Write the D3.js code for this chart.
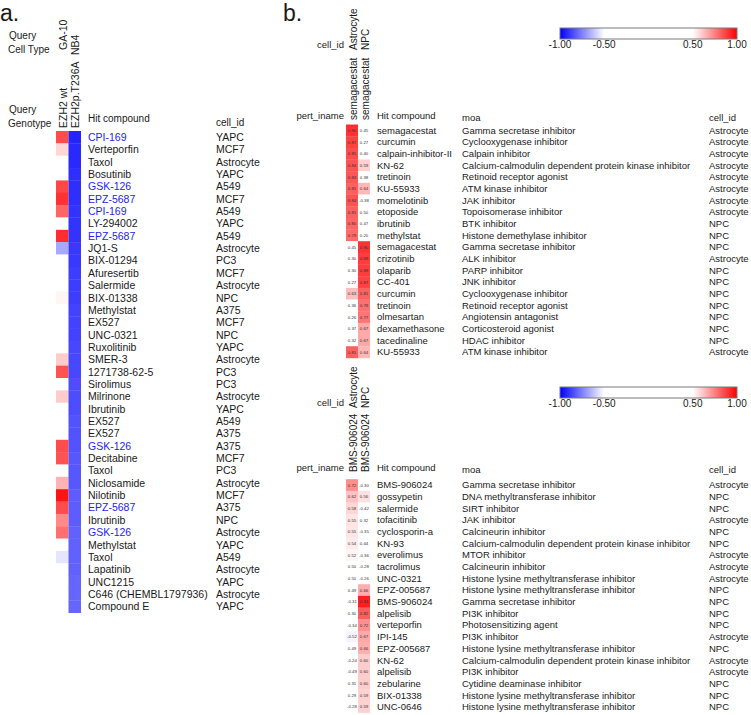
<!DOCTYPE html>
<html>
<head>
<meta charset="utf-8">
<script src="https://cdn.jsdelivr.net/npm/d3@7"></script>
<style>
  body { margin: 0; background: #fff; }
  svg { display: block; font-family: "Liberation Sans", Arial, sans-serif; }
</style>
</head>
<body>
<svg id="viz" width="751" height="715"></svg>
<script>
// ---- panel a data ----
const aCompounds = ['CPI-169','Verteporfin','Taxol','Bosutinib','GSK-126','EPZ-5687','CPI-169','LY-294002','EPZ-5687','JQ1-S',
  'BIX-01294','Afuresertib','Salermide','BIX-01338','Methylstat','EX527','UNC-0321','Ruxolitinib','SMER-3','1271738-62-5',
  'Sirolimus','Milrinone','Ibrutinib','EX527','EX527','GSK-126','Decitabine','Taxol','Niclosamide','Nilotinib',
  'EPZ-5687','Ibrutinib','GSK-126','Methylstat','Taxol','Lapatinib','UNC1215','C646 (CHEMBL1797936)','Compound E'];
const aCells = ['YAPC','MCF7','Astrocyte','YAPC','A549','MCF7','A549','YAPC','A549','Astrocyte',
  'PC3','MCF7','Astrocyte','NPC','A375','MCF7','NPC','YAPC','Astrocyte','PC3',
  'PC3','Astrocyte','YAPC','A549','A375','A375','MCF7','PC3','Astrocyte','MCF7',
  'A375','NPC','Astrocyte','YAPC','A549','Astrocyte','YAPC','Astrocyte','YAPC'];
const aGA10 = [0.85,0.58,0,0,0.86,0.90,0.80,0,0.91,-0.67,
  0,0,0,0.52,0,0,0,0,0.60,0.84,
  0,0.60,0,0,0,0.85,0.84,0,0.65,0.96,
  0.85,0.73,0.78,0,-0.55,0,0,0,0];
const aNB4 = [-0.93,-0.92,-0.92,-0.91,-0.91,-0.91,-0.90,-0.90,-0.90,-0.89,
  -0.89,-0.88,-0.88,-0.88,-0.87,-0.87,-0.87,-0.86,-0.86,-0.86,
  -0.85,-0.85,-0.85,-0.84,-0.84,-0.84,-0.83,-0.83,-0.83,-0.82,
  -0.82,-0.82,-0.81,-0.81,-0.81,-0.81,-0.80,-0.80,-0.80];
const aHighlight = ['CPI-169','GSK-126','EPZ-5687'];
const aCellTypes = ['GA-10','NB4'];
const aGenotypes = ['EZH2 wt','EZH2p.T236A'];

// ---- panel b, top block ----
const btCompounds = ['semagacestat','curcumin','calpain-inhibitor-II','KN-62','tretinoin','KU-55933','momelotinib','etoposide','ibrutinib','methylstat',
  'semagacestat','crizotinib','olaparib','CC-401','curcumin','tretinoin','olmesartan','dexamethasone','tacedinaline','KU-55933'];
const btMoa = ['Gamma secretase inhibitor','Cyclooxygenase inhibitor','Calpain inhibitor','Calcium-calmodulin dependent protein kinase inhibitor',
  'Retinoid receptor agonist','ATM kinase inhibitor','JAK inhibitor','Topoisomerase inhibitor','BTK inhibitor','Histone demethylase inhibitor',
  'Gamma secretase inhibitor','ALK inhibitor','PARP inhibitor','JNK inhibitor','Cyclooxygenase inhibitor','Retinoid receptor agonist',
  'Angiotensin antagonist','Corticosteroid agonist','HDAC inhibitor','ATM kinase inhibitor'];
const btCells = ['Astrocyte','Astrocyte','Astrocyte','Astrocyte','Astrocyte','Astrocyte','Astrocyte','Astrocyte','NPC','NPC',
  'NPC','Astrocyte','NPC','NPC','NPC','NPC','NPC','NPC','NPC','Astrocyte'];
const btAstro = [0.90,0.87,0.85,0.84,0.83,0.81,0.84,0.81,0.80,0.79,0.45,0.30,0.30,0.27,0.63,0.36,0.26,0.37,0.32,0.81];
const btNPC = [0.45,0.27,0.40,0.59,0.38,0.64,-0.38,0.50,0.47,0.20,0.90,0.88,0.88,0.87,0.81,0.78,0.77,0.67,0.67,0.64];
const btColCells = ['Astrocyte','NPC'];
const btColPert = ['semagacestat','semagacestat'];

// ---- panel b, bottom block ----
const bbCompounds = ['BMS-906024','gossypetin','salermide','tofacitinib','cyclosporin-a','KN-93','everolimus','tacrolimus','UNC-0321','EPZ-005687',
  'BMS-906024','alpelisib','verteporfin','IPI-145','EPZ-005687','KN-62','alpelisib','zebularine','BIX-01338','UNC-0646'];
const bbMoa = ['Gamma secretase inhibitor','DNA methyltransferase inhibitor','SIRT inhibitor','JAK inhibitor','Calcineurin inhibitor',
  'Calcium-calmodulin dependent protein kinase inhibitor','MTOR inhibitor','Calcineurin inhibitor','Histone lysine methyltransferase inhibitor',
  'Histone lysine methyltransferase inhibitor','Gamma secretase inhibitor','PI3K inhibitor','Photosensitizing agent','PI3K inhibitor',
  'Histone lysine methyltransferase inhibitor','Calcium-calmodulin dependent protein kinase inhibitor','PI3K inhibitor',
  'Cytidine deaminase inhibitor','Histone lysine methyltransferase inhibitor','Histone lysine methyltransferase inhibitor'];
const bbCells = ['Astrocyte','NPC','NPC','Astrocyte','NPC','NPC','Astrocyte','Astrocyte','Astrocyte','NPC',
  'NPC','NPC','NPC','Astrocyte','NPC','Astrocyte','Astrocyte','NPC','NPC','NPC'];
const bbAstro = [0.72,0.62,0.58,0.55,0.55,0.54,0.52,0.50,0.50,0.49,-0.31,0.30,-0.34,-0.52,0.49,-0.24,-0.49,0.31,0.29,-0.28];
const bbNPC = [-0.30,0.56,-0.42,0.32,-0.35,0.44,-0.36,-0.28,-0.26,0.66,0.94,0.82,0.72,0.67,0.66,0.60,0.60,0.60,0.59,0.59];
const bbColCells = ['Astrocyte','NPC'];
const bbColPert = ['BMS-906024','BMS-906024'];

const legendTicks = [-1, -0.5, 0.5, 1];

// ---- drawing ----
const svg = d3.select('#viz');
svg.append('rect').attr('width', 751).attr('height', 715).attr('fill', '#fff');

const color = d3.scaleLinear()
  .domain([-1, -0.5, 0.5, 1])
  .range(['#0000ff', '#ffffff', '#ffffff', '#ff0000']);

const ink = '#1a1a1a';

function txt(g, x, y, s, size, opts) {
  opts = opts || {};
  return g.append('text')
    .attr('x', x).attr('y', y)
    .attr('font-size', size)
    .attr('fill', opts.fill || ink)
    .attr('text-anchor', opts.anchor || 'start')
    .text(s);
}

function vlabel(g, x, yBottom, s, size) {
  g.append('text')
    .attr('transform', `translate(${x},${yBottom}) rotate(-90)`)
    .attr('font-size', size)
    .attr('fill', ink)
    .text(s);
}

// panel a
const pa = svg.append('g');
txt(pa, 0, 21, 'a.', 23);
txt(pa, 9, 39, 'Query', 10);
txt(pa, 8, 53, 'Cell Type', 10);
txt(pa, 9, 113, 'Query', 10);
txt(pa, 8, 127, 'Genotype', 10);

const xA = d3.scaleBand().domain([0, 1]).range([56, 81]);
const yA = d3.scaleBand().domain(d3.range(aCompounds.length)).range([131, 612.7]);

vlabel(pa, xA(0) + xA.bandwidth() / 2 + 4.5, 50, aCellTypes[0], 10.5);
vlabel(pa, xA(1) + xA.bandwidth() / 2 + 4.5, 55, aCellTypes[1], 10.5);
aGenotypes.forEach((s, i) => vlabel(pa, xA(i) + xA.bandwidth() / 2 + 4.5, 128, s, 10.5));

txt(pa, 88, 122, 'Hit compound', 10);
txt(pa, 216, 126, 'cell_id', 10);

[aGA10, aNB4].forEach((vals, c) => {
  pa.append('g').selectAll('rect')
    .data(vals)
    .join('rect')
    .attr('x', xA(c))
    .attr('y', (d, i) => yA(i))
    .attr('width', xA.bandwidth())
    .attr('height', yA.bandwidth() + 0.3)
    .attr('fill', d => color(d));
});

pa.append('g').selectAll('text')
  .data(aCompounds)
  .join('text')
  .attr('x', 88)
  .attr('y', (d, i) => yA(i) + yA.bandwidth() / 2)
  .attr('dy', '0.36em')
  .attr('font-size', 10.5)
  .attr('fill', d => aHighlight.includes(d) ? '#2424f0' : ink)
  .text(d => d);

pa.append('g').selectAll('text')
  .data(aCells)
  .join('text')
  .attr('x', 216)
  .attr('y', (d, i) => yA(i) + yA.bandwidth() / 2)
  .attr('dy', '0.36em')
  .attr('font-size', 10.5)
  .attr('fill', ink)
  .text(d => d);

// panel b
const pb = svg.append('g');
txt(pb, 283, 21, 'b.', 23);

const xB = d3.scaleBand().domain([0, 1]).range([346, 370]);
const xLeg = d3.scaleLinear().domain([-1, 1]).range([560, 737]);
const fs = 9.5;

const gradId = 'cbar';
const grad = svg.append('defs').append('linearGradient').attr('id', gradId);
color.domain().forEach(v => {
  grad.append('stop').attr('offset', (v + 1) / 2).attr('stop-color', color(v));
});

function block(cfg) {
  const g = pb.append('g');
  const y = d3.scaleBand().domain(d3.range(cfg.compounds.length)).range([cfg.top, cfg.top + cfg.compounds.length * 11.67]);

  // colour bar
  g.append('rect')
    .attr('x', xLeg(-1)).attr('y', cfg.barY)
    .attr('width', xLeg(1) - xLeg(-1)).attr('height', 11)
    .attr('fill', `url(#${gradId})`)
    .attr('stroke', '#7a7a7a').attr('stroke-width', 1);
  legendTicks.forEach(t => {
    txt(g, xLeg(t), cfg.barY + 20, t.toFixed(2), 10, { anchor: 'middle' });
  });

  // header labels
  txt(g, 344, cfg.cellLabelY, 'cell_id', fs, { anchor: 'end' });
  cfg.colCells.forEach((s, i) => vlabel(g, xB(i) + xB.bandwidth() / 2 + 4.5, cfg.cellLabelY + 2, s, 10));
  txt(g, 344, cfg.pertY, 'pert_iname', fs, { anchor: 'end' });
  cfg.colPert.forEach((s, i) => vlabel(g, xB(i) + xB.bandwidth() / 2 + 4.5, cfg.pertY + 1, s, 10));
  txt(g, 377, cfg.pertY, 'Hit compound', fs);
  txt(g, 462, cfg.pertY + 2, 'moa', fs);
  txt(g, 709, cfg.pertY + 2, 'cell_id', fs);

  // cells
  [cfg.astro, cfg.npc].forEach((vals, c) => {
    const cg = g.append('g');
    cg.selectAll('rect')
      .data(vals)
      .join('rect')
      .attr('x', xB(c))
      .attr('y', (d, i) => y(i))
      .attr('width', xB.bandwidth())
      .attr('height', y.bandwidth() + 0.3)
      .attr('fill', d => color(d));
    cg.selectAll('text')
      .data(vals)
      .join('text')
      .attr('x', xB(c) + xB.bandwidth() / 2)
      .attr('y', (d, i) => y(i) + y.bandwidth() / 2)
      .attr('dy', '0.36em')
      .attr('text-anchor', 'middle')
      .attr('font-size', 4.3)
      .attr('fill', '#333')
      .text(d => d.toFixed(2));
  });

  [[cfg.compounds, 377], [cfg.moa, 462], [cfg.cells, 709]].forEach(([list, x]) => {
    g.append('g').selectAll('text')
      .data(list)
      .join('text')
      .attr('x', x)
      .attr('y', (d, i) => y(i) + y.bandwidth() / 2)
      .attr('dy', '0.36em')
      .attr('font-size', fs)
      .attr('fill', ink)
      .text(d => d);
  });
}

block({
  compounds: btCompounds, moa: btMoa, cells: btCells, astro: btAstro, npc: btNPC,
  colCells: btColCells, colPert: btColPert,
  top: 124.5, barY: 28, cellLabelY: 48, pertY: 119
});

block({
  compounds: bbCompounds, moa: bbMoa, cells: bbCells, astro: bbAstro, npc: bbNPC,
  colCells: bbColCells, colPert: bbColPert,
  top: 479.2, barY: 387, cellLabelY: 406, pertY: 471
});
</script>
</body>
</html>
